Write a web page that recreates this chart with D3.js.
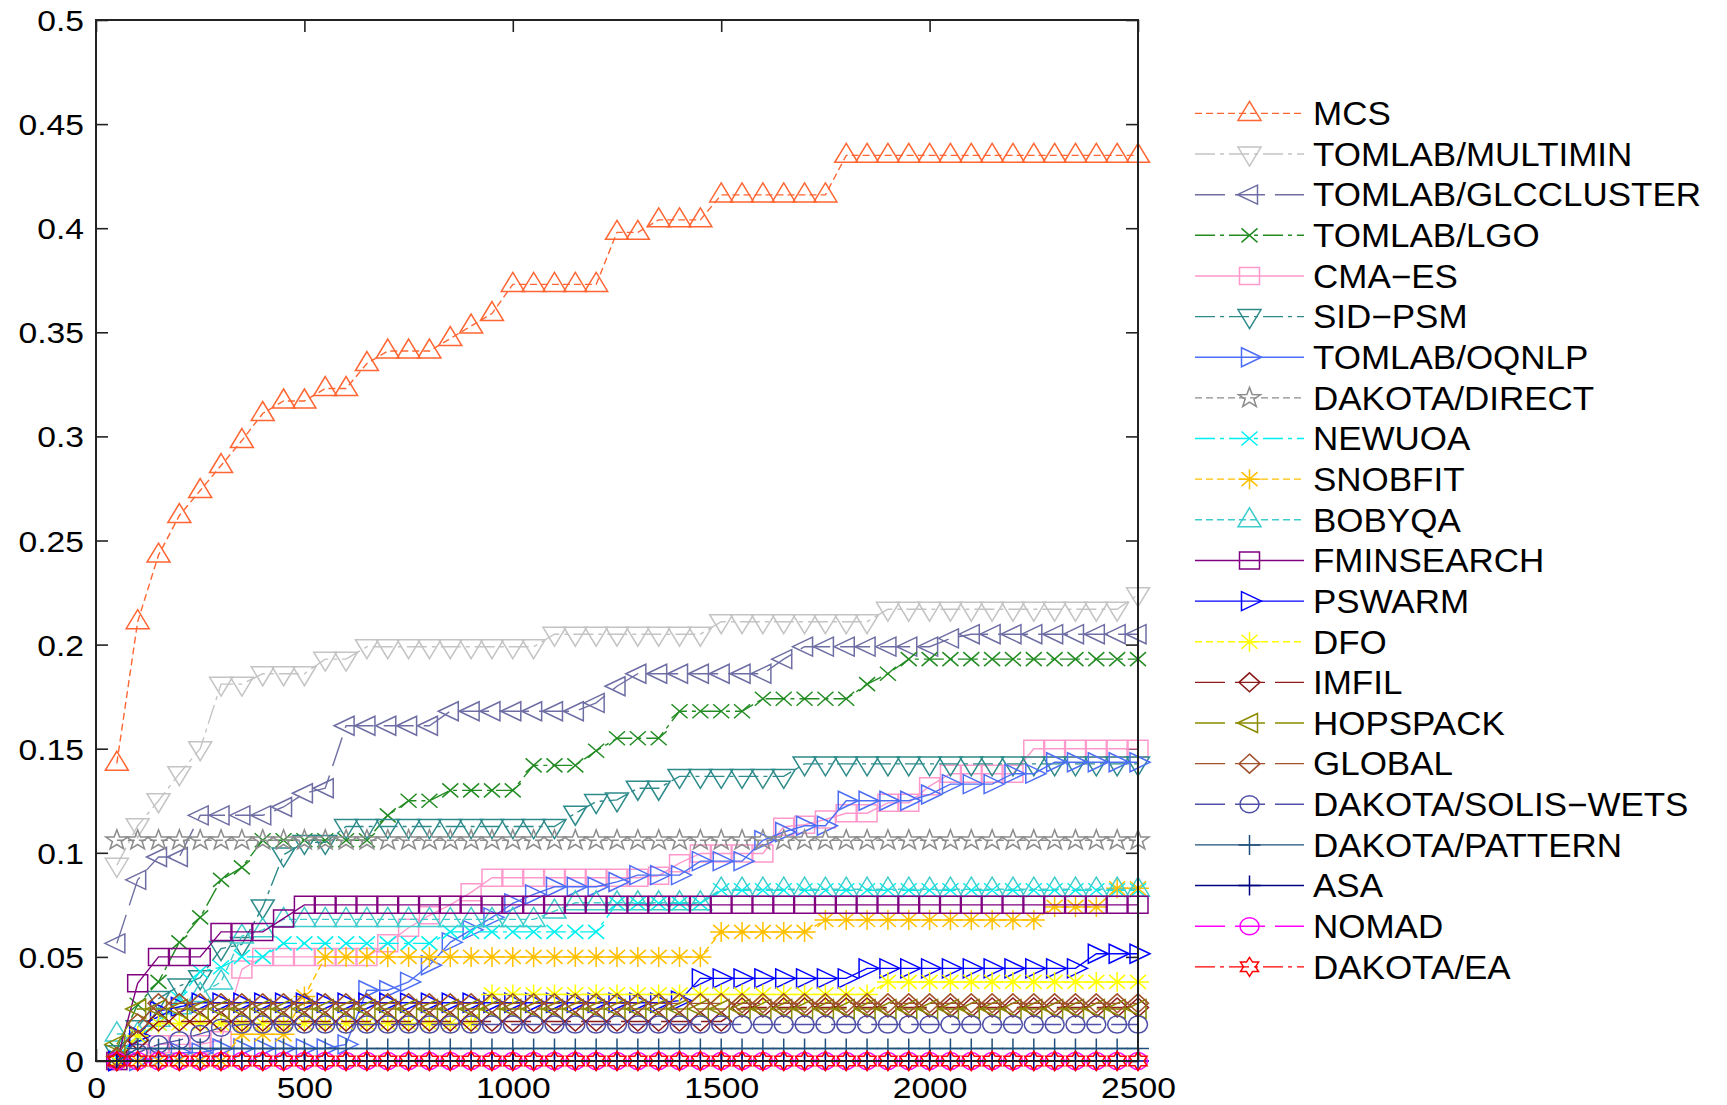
<!DOCTYPE html>
<html>
<head>
<meta charset="utf-8">
<script src="https://cdnjs.cloudflare.com/ajax/libs/d3/7.8.5/d3.min.js"></script>
<style>
  html, body { margin: 0; padding: 0; background: #fff; }
  svg { display: block; }
  text { font-family: "Liberation Sans", Arial, Helvetica, sans-serif; fill: #000; }
</style>
</head>
<body>
<svg id="chart" width="1727" height="1105"></svg>
<script>
// Number of function evaluations at which each solver is sampled
const evals = [50,100,150,200,250,300,350,400,450,500,550,600,650,700,750,800,850,900,950,1000,
  1050,1100,1150,1200,1250,1300,1350,1400,1450,1500,1550,1600,1650,1700,1750,1800,1850,1900,1950,2000,
  2050,2100,2150,2200,2250,2300,2350,2400,2450,2500];

// Fraction of problems solved, one array per solver
const mcs = [0.143,0.211,0.243,0.262,0.274,0.286,0.298,0.311,0.317,0.317,
  0.323,0.323,0.335,0.341,0.341,0.341,0.347,0.353,0.359,0.373,
  0.373,0.373,0.373,0.373,0.398,0.398,0.404,0.404,0.404,0.416,
  0.416,0.416,0.416,0.416,0.416,0.435,0.435,0.435,0.435,0.435,
  0.435,0.435,0.435,0.435,0.435,0.435,0.435,0.435,0.435,0.435];
const multimin = [0.094,0.113,0.125,0.138,0.150,0.181,0.181,0.186,0.186,0.186,
  0.193,0.193,0.199,0.199,0.199,0.199,0.199,0.199,0.199,0.199,
  0.199,0.205,0.205,0.205,0.205,0.205,0.205,0.205,0.205,0.211,
  0.211,0.211,0.211,0.211,0.211,0.211,0.211,0.217,0.217,0.217,
  0.217,0.217,0.217,0.217,0.217,0.217,0.217,0.217,0.217,0.224];
const glccluster = [0.0565,0.087,0.098,0.098,0.118,0.118,0.118,0.118,0.122,0.1286,
  0.131,0.161,0.161,0.161,0.161,0.161,0.168,0.168,0.168,0.168,
  0.168,0.168,0.168,0.172,0.180,0.186,0.186,0.186,0.186,0.186,
  0.186,0.186,0.193,0.199,0.199,0.199,0.199,0.199,0.199,0.199,
  0.203,0.205,0.205,0.205,0.205,0.205,0.205,0.205,0.205,0.205];
const lgo = [0.006,0.027,0.038,0.057,0.069,0.087,0.093,0.106,0.106,0.106,
  0.106,0.106,0.106,0.118,0.125,0.125,0.130,0.130,0.130,0.130,
  0.142,0.142,0.142,0.149,0.155,0.155,0.155,0.168,0.168,0.168,
  0.168,0.174,0.174,0.174,0.174,0.174,0.181,0.186,0.193,0.193,
  0.193,0.193,0.193,0.193,0.193,0.193,0.193,0.193,0.193,0.193];
const cmaes = [0,0.004,0.008,0.008,0.008,0.010,0.044,0.050,0.050,0.050,
  0.050,0.050,0.050,0.0565,0.064,0.070,0.075,0.081,0.088,0.088,
  0.088,0.088,0.088,0.088,0.088,0.088,0.089,0.095,0.0997,0.0997,
  0.0997,0.0997,0.1125,0.1135,0.116,0.119,0.119,0.124,0.124,0.132,
  0.138,0.138,0.138,0.138,0.150,0.150,0.150,0.150,0.150,0.150];
const sidpsm = [0.004,0.016,0.030,0.036,0.040,0.054,0.056,0.074,0.099,0.105,
  0.105,0.1126,0.1126,0.1126,0.1126,0.1126,0.1126,0.1126,0.1126,0.1126,
  0.1126,0.1126,0.119,0.1246,0.1254,0.131,0.131,0.1367,0.1367,0.1367,
  0.1367,0.1367,0.1367,0.1427,0.1427,0.1427,0.1427,0.1427,0.1427,0.1427,
  0.1427,0.1427,0.1427,0.1427,0.1427,0.1427,0.1427,0.1427,0.1427,0.1427];
const oqnlp = [0,0,0.002,0.004,0.004,0.006,0.006,0.006,0.006,0.006,
  0.006,0.008,0.034,0.034,0.038,0.046,0.057,0.063,0.069,0.0757,
  0.080,0.0837,0.0837,0.0837,0.086,0.0893,0.0893,0.0893,0.096,0.096,
  0.096,0.106,0.110,0.113,0.113,0.125,0.125,0.125,0.125,0.128,
  0.133,0.133,0.133,0.138,0.138,0.1435,0.1435,0.1435,0.1435,0.1435];
const direct = [0.106,0.106,0.106,0.106,0.106,0.106,0.106,0.106,0.106,0.106,
  0.106,0.106,0.106,0.106,0.106,0.106,0.106,0.106,0.106,0.106,
  0.106,0.106,0.106,0.106,0.106,0.106,0.106,0.106,0.106,0.106,
  0.106,0.106,0.106,0.106,0.106,0.106,0.106,0.106,0.106,0.106,
  0.106,0.106,0.106,0.106,0.106,0.106,0.106,0.106,0.106,0.106];
const newuoa = [0.002,0.012,0.018,0.030,0.043,0.045,0.050,0.050,0.0565,0.0565,
  0.0565,0.0565,0.0565,0.0565,0.0565,0.0565,0.062,0.062,0.062,0.062,
  0.062,0.062,0.062,0.062,0.0757,0.0757,0.0757,0.0757,0.0757,0.082,
  0.082,0.082,0.082,0.082,0.082,0.082,0.082,0.082,0.082,0.082,
  0.082,0.082,0.082,0.082,0.082,0.082,0.082,0.082,0.082,0.082];
const snobfit = [0,0,0,0,0,0,0.0128,0.0128,0.0128,0.031,
  0.050,0.050,0.050,0.050,0.050,0.050,0.050,0.050,0.050,0.050,
  0.050,0.050,0.050,0.050,0.050,0.050,0.050,0.050,0.050,0.062,
  0.062,0.062,0.062,0.062,0.0677,0.0677,0.0677,0.0677,0.0677,0.0677,
  0.0677,0.0677,0.0677,0.0677,0.0677,0.074,0.074,0.074,0.083,0.083];
const bobyqa = [0.013,0.013,0.020,0.026,0.032,0.038,0.060,0.063,0.068,0.068,
  0.068,0.068,0.068,0.068,0.068,0.068,0.068,0.068,0.068,0.068,
  0.068,0.072,0.076,0.076,0.076,0.076,0.076,0.076,0.076,0.0825,
  0.0825,0.0825,0.0825,0.0825,0.0825,0.0825,0.0825,0.0825,0.0825,0.0825,
  0.0825,0.0825,0.0825,0.0825,0.0825,0.0825,0.0825,0.0825,0.0825,0.0825];
const fminsearch = [0,0.0373,0.050,0.050,0.050,0.062,0.062,0.062,0.0685,0.075,
  0.075,0.075,0.075,0.075,0.075,0.075,0.075,0.075,0.075,0.075,
  0.075,0.075,0.075,0.075,0.075,0.075,0.075,0.075,0.075,0.075,
  0.075,0.075,0.075,0.075,0.075,0.075,0.075,0.075,0.075,0.075,
  0.075,0.075,0.075,0.075,0.075,0.075,0.075,0.075,0.075,0.075];
const pswarm = [0,0.012,0.024,0.026,0.028,0.028,0.028,0.028,0.028,0.028,
  0.028,0.028,0.028,0.028,0.028,0.028,0.028,0.028,0.028,0.028,
  0.028,0.028,0.028,0.028,0.028,0.028,0.028,0.029,0.0397,0.0397,
  0.0397,0.0397,0.0397,0.0397,0.0397,0.0397,0.0445,0.0445,0.0445,0.0445,
  0.0445,0.0445,0.0445,0.0445,0.0445,0.0445,0.0445,0.0515,0.0515,0.0515];
const dfo = [0,0.012,0.018,0.018,0.018,0.018,0.018,0.018,0.018,0.018,
  0.018,0.018,0.018,0.018,0.018,0.018,0.018,0.018,0.032,0.032,
  0.032,0.032,0.032,0.032,0.032,0.032,0.032,0.032,0.032,0.032,
  0.032,0.032,0.032,0.032,0.032,0.032,0.032,0.038,0.038,0.038,
  0.038,0.038,0.038,0.038,0.038,0.038,0.038,0.038,0.038,0.038];
const imfil = [0,0.010,0.019,0.019,0.019,0.019,0.019,0.019,0.019,0.019,
  0.019,0.019,0.019,0.019,0.019,0.019,0.019,0.019,0.019,0.019,
  0.019,0.019,0.019,0.019,0.019,0.019,0.019,0.019,0.019,0.019,
  0.0257,0.0257,0.0257,0.0257,0.0257,0.0257,0.0257,0.0257,0.0257,0.0257,
  0.0257,0.0257,0.0257,0.0257,0.0257,0.0257,0.0257,0.0257,0.0257,0.0257];
const hopspack = [0.008,0.025,0.025,0.025,0.025,0.025,0.025,0.025,0.025,0.025,
  0.025,0.025,0.025,0.025,0.025,0.025,0.025,0.025,0.025,0.025,
  0.025,0.025,0.025,0.025,0.025,0.025,0.025,0.025,0.025,0.025,
  0.025,0.025,0.025,0.025,0.025,0.025,0.025,0.025,0.025,0.025,
  0.025,0.025,0.025,0.025,0.025,0.025,0.025,0.025,0.025,0.025];
const globalSolver = [0.002,0.018,0.0277,0.0277,0.0277,0.0277,0.0277,0.0277,0.0277,0.0277,
  0.0277,0.0277,0.0277,0.0277,0.0277,0.0277,0.0277,0.0277,0.0277,0.0277,
  0.0277,0.0277,0.0277,0.0277,0.0277,0.0277,0.0277,0.0277,0.0277,0.0277,
  0.0277,0.0277,0.0277,0.0277,0.0277,0.0277,0.0277,0.0277,0.0277,0.0277,
  0.0277,0.0277,0.0277,0.0277,0.0277,0.0277,0.0277,0.0277,0.0277,0.0277];
const solisWets = [0,0.004,0.008,0.010,0.013,0.016,0.0175,0.0175,0.0175,0.0175,
  0.0175,0.0175,0.0175,0.0175,0.0175,0.0175,0.0175,0.0175,0.0175,0.0175,
  0.0175,0.0175,0.0175,0.0175,0.0175,0.0175,0.0175,0.0175,0.0175,0.0175,
  0.0175,0.0175,0.0175,0.0175,0.0175,0.0175,0.0175,0.0175,0.0175,0.0175,
  0.0175,0.0175,0.0175,0.0175,0.0175,0.0175,0.0175,0.0175,0.0175,0.0175];
const pattern = [0,0.006,0.006,0.006,0.006,0.006,0.006,0.006,0.006,0.006,
  0.006,0.006,0.006,0.006,0.006,0.006,0.006,0.006,0.006,0.006,
  0.006,0.006,0.006,0.006,0.006,0.006,0.006,0.006,0.006,0.006,
  0.006,0.006,0.006,0.006,0.006,0.006,0.006,0.006,0.006,0.006,
  0.006,0.006,0.006,0.006,0.006,0.006,0.006,0.006,0.006,0.006];
const asa = [0,0,0,0,0,0,0,0,0,0, 0,0,0,0,0,0,0,0,0,0, 0,0,0,0,0,0,0,0,0,0,
  0,0,0,0,0,0,0,0,0,0, 0,0,0,0,0,0,0,0,0,0];
const nomad = [0,0,0,0,0,0,0,0,0,0, 0,0,0,0,0,0,0,0,0,0, 0,0,0,0,0,0,0,0,0,0,
  0,0,0,0,0,0,0,0,0,0, 0,0,0,0,0,0,0,0,0,0];
const dakotaEA = [0,0,0,0,0,0,0,0,0,0, 0,0,0,0,0,0,0,0,0,0, 0,0,0,0,0,0,0,0,0,0,
  0,0,0,0,0,0,0,0,0,0, 0,0,0,0,0,0,0,0,0,0];

const xTicks = [0, 500, 1000, 1500, 2000, 2500];
const yTicks = [0, 0.05, 0.1, 0.15, 0.2, 0.25, 0.3, 0.35, 0.4, 0.45, 0.5];

// Line dash styles
const DOT = "7,4", DASH = "30,10", DASHDOT = "20,5,4,5";

const series = [
  { name: "MCS",               values: mcs,          color: "#ff6633", dash: DOT,     marker: "triUp" },
  { name: "TOMLAB/MULTIMIN",   values: multimin,     color: "#c4c4c4", dash: DASHDOT, marker: "triDown" },
  { name: "TOMLAB/GLCCLUSTER", values: glccluster,   color: "#6e6ea4", dash: DASH,    marker: "triLeft" },
  { name: "TOMLAB/LGO",        values: lgo,          color: "#228b22", dash: DASHDOT, marker: "x" },
  { name: "CMA\u2212ES",       values: cmaes,        color: "#ff99cc", dash: null,    marker: "square" },
  { name: "SID\u2212PSM",      values: sidpsm,       color: "#2e8b8b", dash: DASHDOT, marker: "triDown" },
  { name: "TOMLAB/OQNLP",      values: oqnlp,        color: "#4d6ef5", dash: null,    marker: "triRight" },
  { name: "DAKOTA/DIRECT",     values: direct,       color: "#8c8c8c", dash: DOT,     marker: "pentagram" },
  { name: "NEWUOA",            values: newuoa,       color: "#00f0f0", dash: DASHDOT, marker: "x" },
  { name: "SNOBFIT",           values: snobfit,      color: "#ffc000", dash: DOT,     marker: "asterisk" },
  { name: "BOBYQA",            values: bobyqa,       color: "#40cccc", dash: DOT,     marker: "triUp" },
  { name: "FMINSEARCH",        values: fminsearch,   color: "#800080", dash: null,    marker: "square" },
  { name: "PSWARM",            values: pswarm,       color: "#0000ff", dash: null,    marker: "triRight" },
  { name: "DFO",               values: dfo,          color: "#ffff00", dash: DOT,     marker: "asterisk" },
  { name: "IMFIL",             values: imfil,        color: "#8b1a1a", dash: DASH,    marker: "diamond" },
  { name: "HOPSPACK",          values: hopspack,     color: "#8b8b00", dash: DASH,    marker: "triLeft" },
  { name: "GLOBAL",            values: globalSolver, color: "#a0522d", dash: DASH,    marker: "diamond" },
  { name: "DAKOTA/SOLIS\u2212WETS", values: solisWets, color: "#5050a8", dash: DASH,  marker: "circle" },
  { name: "DAKOTA/PATTERN",    values: pattern,      color: "#1f4f7a", dash: null,    marker: "plus" },
  { name: "ASA",               values: asa,          color: "#000080", dash: null,    marker: "plus" },
  { name: "NOMAD",             values: nomad,        color: "#ff00ff", dash: DASH,    marker: "circle" },
  { name: "DAKOTA/EA",         values: dakotaEA,     color: "#ff0000", dash: DASHDOT, marker: "hexagram" }
];

// Marker outlines, centred on the data point
function starPath(n, rOuter, rInner, sx) {
  const pts = [];
  for (let k = 0; k < 2 * n; k++) {
    const r = k % 2 === 0 ? rOuter : rInner;
    const a = -Math.PI / 2 + k * Math.PI / n;
    pts.push([sx * r * Math.cos(a), r * Math.sin(a)]);
  }
  return "M" + pts.map(p => p[0].toFixed(2) + "," + p[1].toFixed(2)).join("L") + "Z";
}
const markerPaths = {
  triUp:    "M0,-12L11.5,7L-11.5,7Z",
  triDown:  "M0,12L11.5,-7L-11.5,-7Z",
  triLeft:  "M-12,0L8,-9.5L8,9.5Z",
  triRight: "M12,0L-8,-9.5L-8,9.5Z",
  square:   "M-10,-8.5H10V8.5H-10Z",
  diamond:  "M0,-9.5L10.5,0L0,9.5L-10.5,0Z",
  circle:   "M-9.5,0A9.5,8.5 0 1,0 9.5,0A9.5,8.5 0 1,0 -9.5,0Z",
  x:        "M-8,-7L8,7M-8,7L8,-7",
  asterisk: "M-8,-7L8,7M-8,7L8,-7M0,-10V10M-11,0H11",
  plus:     "M0,-10V10M-11,0H11",
  pentagram: starPath(5, 10.5, 4.2, 1.1),
  hexagram:  starPath(6, 9.5, 5.5, 1.1)
};

const plot = { left: 96, right: 1138, top: 20, bottom: 1061 };

const svg = d3.select("#chart");
const x = d3.scaleLinear().domain([0, 2500]).range([plot.left, plot.right]);
const y = d3.scaleLinear().domain([0, 0.5]).range([plot.bottom, plot.top]);

const tickFontSize = 29.5, tickStretch = 1.14;

// Axes with inward ticks on all four sides
const gLeft = svg.append("g").attr("transform", `translate(${plot.left},0)`)
  .call(d3.axisLeft(y).tickValues(yTicks).tickSizeInner(-12).tickSizeOuter(0).tickPadding(12)
        .tickFormat(d => String(d)));
const gRight = svg.append("g").attr("transform", `translate(${plot.right},0)`)
  .call(d3.axisRight(y).tickValues(yTicks).tickSizeInner(-12).tickSizeOuter(0).tickFormat(""));
const gBottom = svg.append("g").attr("transform", `translate(0,${plot.bottom})`)
  .call(d3.axisBottom(x).tickValues(xTicks).tickSizeInner(-12).tickSizeOuter(0).tickFormat(d => String(d)));
const gTop = svg.append("g").attr("transform", `translate(0,${plot.top})`)
  .call(d3.axisTop(x).tickValues(xTicks).tickSizeInner(-12).tickSizeOuter(0).tickFormat(""));

[gLeft, gRight, gBottom, gTop].forEach(g => {
  g.select(".domain").remove();
  g.selectAll(".tick line").attr("stroke", "#222").attr("stroke-width", 1.6);
});

gLeft.selectAll(".tick text")
  .attr("font-size", tickFontSize).attr("fill", "#000")
  .attr("x", null).attr("dy", null)
  .attr("text-anchor", "end")
  .attr("transform", `translate(-12,${0.358 * tickFontSize}) scale(${tickStretch},1)`);
gBottom.selectAll(".tick text")
  .attr("font-size", tickFontSize).attr("fill", "#000")
  .attr("y", null).attr("dy", null)
  .attr("text-anchor", "middle")
  .attr("transform", `translate(0,37) scale(${tickStretch},1)`);

// Series: line then hollow markers
const line = d3.line().x((d, i) => x(evals[i])).y(d => y(d));
const gSeries = svg.append("g");
series.forEach(s => {
  const g = gSeries.append("g");
  g.append("path")
    .attr("d", line(s.values))
    .attr("fill", "none")
    .attr("stroke", s.color)
    .attr("stroke-width", 1.4)
    .attr("stroke-dasharray", s.dash);
  g.selectAll("path.mk")
    .data(s.values)
    .join("path")
    .attr("class", "mk")
    .attr("transform", (d, i) => `translate(${x(evals[i])},${y(d)})`)
    .attr("d", markerPaths[s.marker])
    .attr("fill", "none")
    .attr("stroke", s.color)
    .attr("stroke-width", 1.5);
});

// Plot frame
svg.append("rect")
  .attr("x", plot.left).attr("y", plot.top)
  .attr("width", plot.right - plot.left).attr("height", plot.bottom - plot.top)
  .attr("fill", "none").attr("stroke", "#222").attr("stroke-width", 2);

// Legend
const legendFontSize = 33, legendStretch = 1.06;
const legend = svg.append("g");
const legendTop = 113.4, legendStep = 40.64;
const legX0 = 1195, legX1 = 1304, legMark = 1249.5, legText = 1313;
series.forEach((s, i) => {
  const cy = legendTop + i * legendStep;
  const g = legend.append("g");
  g.append("line")
    .attr("x1", legX0).attr("x2", legX1).attr("y1", cy).attr("y2", cy)
    .attr("stroke", s.color).attr("stroke-width", 1.4)
    .attr("stroke-dasharray", s.dash);
  g.append("path")
    .attr("transform", `translate(${legMark},${cy})`)
    .attr("d", markerPaths[s.marker])
    .attr("fill", "none").attr("stroke", s.color).attr("stroke-width", 1.5);
  g.append("text")
    .attr("transform", `translate(${legText},${cy + 0.358 * legendFontSize}) scale(${legendStretch},1)`)
    .attr("font-size", legendFontSize)
    .text(s.name);
});
</script>
</body>
</html>
